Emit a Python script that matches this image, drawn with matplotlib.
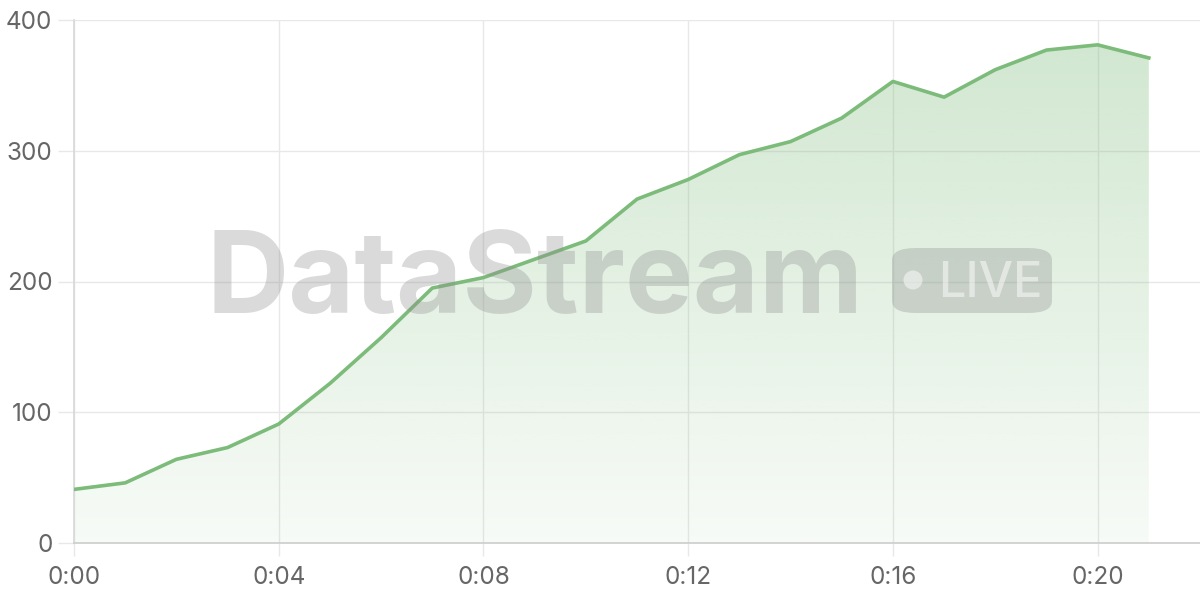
import numpy as np
import matplotlib
matplotlib.use('Agg')
import matplotlib.pyplot as plt
from matplotlib.patches import FancyBboxPatch, Polygon, Circle

# ---- data ----
minutes = list(range(22))
values = [41, 46, 64, 73, 91, 122, 157, 195, 203, 217, 231, 263, 278, 297,
          307, 325, 353, 341, 362, 377, 381, 371]
x_ticks = [0, 4, 8, 12, 16, 20]
x_tick_labels = ['0:00', '0:04', '0:08', '0:12', '0:16', '0:20']
y_ticks = [0, 100, 200, 300, 400]
y_tick_labels = ['0', '100', '200', '300', '400']

LINE = '#7cbb7a'
GRID = '#e8e8e8'
TXT = '#666666'

plt.rcParams['font.family'] = ['Inter', 'DejaVu Sans']

W, H = 1200, 600
fig = plt.figure(figsize=(12, 6), dpi=100)
ax = fig.add_axes([74 / W, 57 / H, 1126 / W, 523 / H])
ax.set_xlim(0, 22)
ax.set_ylim(0, 400)

# gradient fill under line
xs = np.array(minutes, dtype=float)
ys = np.array(values, dtype=float)
verts = np.vstack([np.column_stack([xs, ys]), [[xs[-1], 0], [xs[0], 0]]])
poly = Polygon(verts, closed=True, facecolor='none', edgecolor='none')
ax.add_patch(poly)
rgb = np.array(matplotlib.colors.to_rgb(LINE))
n = 256
grad = np.zeros((n, 1, 4))
grad[:, 0, :3] = rgb
grad[:, 0, 3] = np.linspace(0.06, 0.36, n)  # bottom -> top
im = ax.imshow(grad, extent=[xs[0], xs[-1], 0, 400], origin='lower',
               aspect='auto', zorder=1, interpolation='bilinear')
im.set_clip_path(poly)

ax.plot(xs, ys, color=LINE, lw=2.6, zorder=4, solid_joinstyle='round')

# axes styling
ax.set_xticks(x_ticks)
ax.set_xticklabels(x_tick_labels)
ax.set_yticks(y_ticks)
ax.set_yticklabels(y_tick_labels)
ax.grid(True, color=GRID, lw=1.0, zorder=0)
ax.set_axisbelow(True)
for s in ['top', 'right']:
    ax.spines[s].set_visible(False)
ax.spines['left'].set_color('#d8d8d8')
ax.spines['bottom'].set_color('#cccccc')
ax.spines['left'].set_linewidth(1.2)
ax.spines['bottom'].set_linewidth(1.2)
ax.tick_params(axis='x', length=9.5, color=GRID, width=1.0, pad=7,
               labelsize=17.5, labelcolor=TXT)
ax.tick_params(axis='y', length=11.5, color=GRID, width=1.0, pad=4,
               labelsize=17.5, labelcolor=TXT)

# watermark
WM = '#8f8f8f'
WA = 0.33
fig.text(207 / W, (H - 313) / H, 'DataStream', ha='left', va='baseline',
         fontsize=82, fontweight='bold', color=WM, alpha=WA, zorder=3,
         family=['Inter', 'DejaVu Sans'])
box = FancyBboxPatch((892 / W, (H - 313) / H), 160 / W, 65 / H,
                     boxstyle='round,pad=0,rounding_size=0.02',
                     transform=fig.transFigure, facecolor=WM, alpha=WA,
                     edgecolor='none', zorder=3)
fig.patches.append(box)
fig.patches.append(Circle((913, H - 280), 9.5, transform=None,
                          facecolor='white', alpha=0.5, edgecolor='none', zorder=4))
fig.text(938 / W, (H - 297) / H, 'LIVE', ha='left', va='baseline',
         fontsize=35, fontweight='medium', color='white', alpha=0.5, zorder=4,
         family=['Inter', 'DejaVu Sans'])

fig.savefig('out.png', dpi=100)
